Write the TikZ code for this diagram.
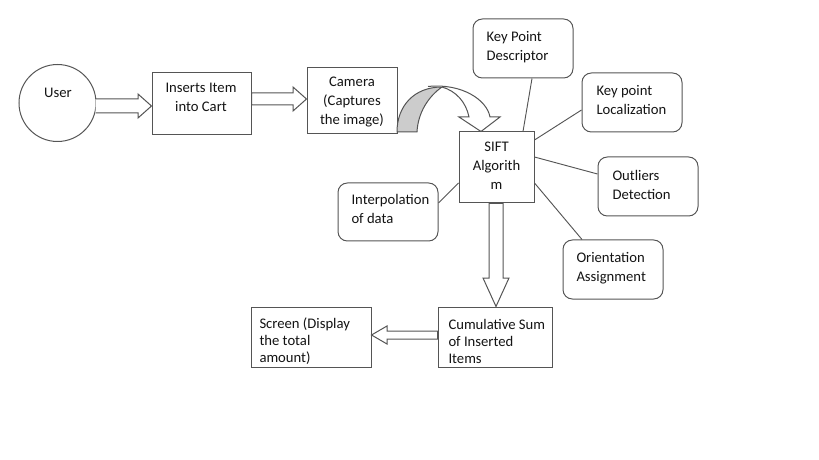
\documentclass[tikz,border=0pt]{standalone}
\usepackage{fontspec}
\setmainfont{Carlito}
\usetikzlibrary{fit,calc}
\definecolor{lc}{RGB}{85,85,85}
\definecolor{tc}{RGB}{20,20,20}
\definecolor{bandgrey}{RGB}{204,204,204}
\begin{document}
\begin{tikzpicture}[x=0.75pt,y=-0.75pt,line width=0.75pt,
  box/.style={draw=lc,inner sep=0pt,fill=white},
  rbox/.style={box,rounded corners=7pt},
  txt/.style={inner sep=0pt,text=tc,font=\fontsize{11}{14.25}\selectfont,align=left},
  ctxt/.style={txt,align=center},
  tighttxt/.style={txt,font=\fontsize{11}{12.75}\selectfont},
  barrow/.style={draw=lc,fill=white,line join=miter},
  conn/.style={draw=lc,line width=0.7pt}]
\useasboundingbox (0,0) rectangle (819,460);

% shapes
\node[draw=lc,circle,inner sep=0pt,minimum size=57.75pt] (user) at (57.5,103) {};
\node[box,fit={(152,73) (251,135)}] (ins) {};
\node[box,fit={(307,68) (397,134)}] (cam) {};
\node[box,fit={(459,132) (534,203)}] (sift) {};
\node[rbox,fit={(473,19) (573,78)}] (kpd) {};
\node[rbox,fit={(582,73) (682,132)}] (kpl) {};
\node[rbox,fit={(598,157) (698,216)}] (outl) {};
\node[rbox,fit={(338,183) (438,241)}] (interp) {};
\node[rbox,fit={(563,240) (663,299)}] (orient) {};
\node[box,fit={(438,307) (552,367)}] (cum) {};
\node[box,fit={(251,307) (371,367)}] (scr) {};

% texts
\node[txt] (tuser) at (58,93) {User};
\node[ctxt] (tins) at (201,97.5) {Inserts Item\\into Cart};
\node[ctxt] (tcam) at (352,102) {Camera\\(Captures\\the image)};
\node[ctxt] (tsift) at (496.5,166) {SIFT\\Algorith\\m};
\node[txt,anchor=west] (tkpd) at (486,47.5) {Key Point\\Descriptor};
\node[txt,anchor=west] (tkpl) at (596,100) {Key point\\Localization};
\node[txt,anchor=west] (toutl) at (612,185) {Outliers\\Detection};
\node[txt,anchor=west] (tinterp) at (351,209) {Interpolation\\of data};
\node[txt,anchor=west] (torient) at (576,268) {Orientation\\Assignment};
\node[tighttxt,anchor=west] (tcum) at (448,341) {Cumulative Sum\\of Inserted\\Items};
\node[tighttxt,anchor=west] (tscr) at (259,341) {Screen (Display\\the total\\amount)};

% thin connectors
\draw[conn] (532,0 |- kpd.south) -- (523,0 |- sift.north);
\draw[conn] (kpl.west |- 0,110) -- (sift.east |- 0,140);
\draw[conn] (sift.east |- 0,157) -- (outl.west |- 0,174);
\draw[conn] (interp.east |- 0,203) -- (sift.west |- 0,183);
\draw[conn] (sift.east |- 0,183) -- (582,0 |- orient.north);

% block arrows
\draw[barrow] (95.5,99) -- (138,99) -- (138,94) -- (ins.west |- 0,106)
  -- (138,118) -- (138,113) -- (95.5,113);
\draw[barrow] (ins.east |- 0,93) -- (293,93) -- (293,87) -- (cam.west |- 0,99)
  -- (293,111) -- (293,105) -- (ins.east |- 0,105) -- cycle;
\draw[barrow] (489,0 |- sift.south) -- (489,278) -- (483,278) -- (496,0 |- cum.north)
  -- (509,278) -- (503,278) -- (503,0 |- sift.south) -- cycle;
\draw[barrow] (cum.west |- 0,331) -- (387,331) -- (387,326) -- (scr.east |- 0,335)
  -- (387,344) -- (387,339) -- (cum.west |- 0,339) -- cycle;

% curved arrow camera -> SIFT
\draw[draw=lc,fill=bandgrey] (397,132) .. controls (397,106) and (414,87) .. (442,87)
  .. controls (429,96) and (418,112) .. (417,132) -- cycle;
\draw[barrow] (428,86.5) .. controls (462,83) and (487,100) .. (490,117) -- (500,117)
  -- (481,0 |- sift.north) -- (459,117) -- (469,117)
  .. controls (466,102) and (456,91) .. (442,87);
\end{tikzpicture}
\end{document}
